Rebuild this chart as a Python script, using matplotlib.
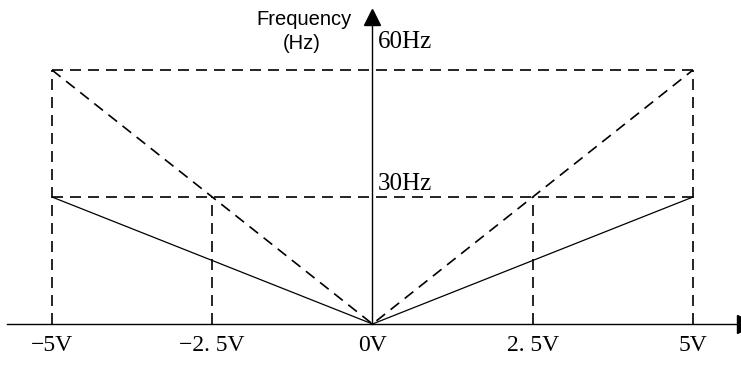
import matplotlib
matplotlib.use('Agg')
import matplotlib.pyplot as plt

volts = [-5, -2.5, 0, 2.5, 5]
volt_labels = ['\u22125V', '\u22122. 5V', '0V', '2. 5V', '5V']
freq_max = 60
freq_half = 30
freq_labels = ['60Hz', '30Hz']

fig = plt.figure(figsize=(7.41, 3.67), dpi=100)
ax = fig.add_axes([0, 0, 1, 1])
ax.set_xlim(-5.811, 5.749)
ax.set_ylim(-10.16, 76.54)
ax.axis('off')

dash = dict(color='black', lw=1.2, linestyle=(0, (6.6, 4.2)))
solid = dict(color='black', lw=0.9)

# axes with arrow heads
ax.plot([-5.70, 5.75], [0, 0], color='black', lw=1.0)
ax.plot([0, 0], [0, 72], color='black', lw=1.0)
ax.plot([0], [72.6], marker='^', markersize=11.5, color='black', clip_on=False)
ax.plot([5.83], [0], marker='>', markersize=13, color='black', clip_on=False)

# dashed frame
ax.plot([volts[0], volts[-1]], [freq_max, freq_max], **dash)
ax.plot([volts[0], volts[-1]], [freq_half, freq_half], **dash)
for v in [volts[0], volts[-1]]:
    ax.plot([v, v], [0, freq_max], **dash)
for v in [volts[1], volts[3]]:
    ax.plot([v, v], [0, freq_half], **dash)

# dashed diagonals to 60Hz
ax.plot([volts[0], 0, volts[-1]], [freq_max, 0, freq_max], **dash)
# solid lines to 30Hz
ax.plot([volts[0], 0, volts[-1]], [freq_half, 0, freq_half], **solid)

serif = ['Liberation Serif', 'DejaVu Serif']
for v, lab in zip(volts, volt_labels):
    ax.text(v, -5.0, lab, ha='center', va='center', fontsize=17, family=serif)

ax.text(0.08, 66.6, freq_labels[0], ha='left', va='center', fontsize=18, family=serif)
ax.text(0.08, 33.0, freq_labels[1], ha='left', va='center', fontsize=18, family=serif)

ax.text(-1.07, 72.0, 'Frequency', ha='center', va='center', fontsize=14.5, family='Liberation Sans')
ax.text(-1.10, 66.2, '(Hz)', ha='center', va='center', fontsize=14.5, family='Liberation Sans')

fig.savefig('out.png', dpi=100)
